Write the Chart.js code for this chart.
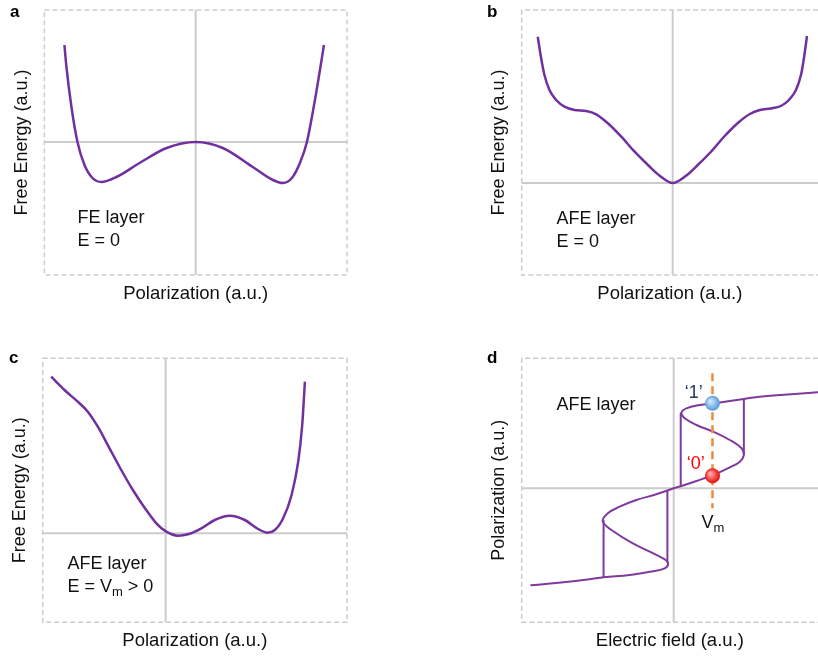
<!DOCTYPE html>
<html>
<head>
<meta charset="utf-8">
<script src="https://cdn.jsdelivr.net/npm/chart.js"></script>
<style>
  body { margin: 0; width: 818px; height: 660px; overflow: hidden; background: #fff; position: relative; }
  canvas { position: absolute; }
</style>
</head>
<body>
<canvas id="panelA" width="409" height="330" style="left:0;top:0"></canvas>
<canvas id="panelB" width="409" height="330" style="left:409px;top:0"></canvas>
<canvas id="panelC" width="409" height="330" style="left:0;top:330px"></canvas>
<canvas id="panelD" width="409" height="330" style="left:409px;top:330px"></canvas>
<script>
// a: FE layer, E = 0
var feP = [-1.31,-1.29,-1.24,-1.18,-1.11,-1.03,-0.94,-0.79,-0.56,-0.29,0,0.27,0.57,0.77,0.87,0.96,1.04,1.11,1.19,1.24,1.28];
var feG = [0.97,0.75,0.35,0,-0.23,-0.36,-0.40,-0.35,-0.21,-0.06,0,-0.06,-0.25,-0.38,-0.41,-0.36,-0.21,0,0.42,0.72,0.97];

// b: AFE layer, E = 0
var afeP = [-1.347,-1.313,-1.28,-1.23,-1.163,-1.08,-0.98,-0.863,-0.763,-0.647,-0.513,-0.38,-0.247,-0.13,0,0.13,0.25,0.38,0.51,0.65,0.77,0.87,0.98,1.08,1.16,1.23,1.28,1.31,1.34];
var afeG = [1.463,1.247,1.08,0.93,0.83,0.763,0.73,0.72,0.687,0.597,0.463,0.313,0.18,0.073,0,0.07,0.18,0.31,0.46,0.60,0.69,0.73,0.745,0.77,0.83,0.93,1.08,1.25,1.47];

// c: AFE layer, E = Vm > 0
var biasP = [-1.143,-1.01,-0.877,-0.777,-0.677,-0.56,-0.443,-0.327,-0.21,-0.093,0.007,0.123,0.223,0.357,0.49,0.64,0.79,0.923,1.017,1.09,1.173,1.257,1.323,1.363,1.39];
var biasG = [1.566,1.433,1.316,1.216,1.066,0.85,0.633,0.433,0.256,0.10,0.016,-0.024,-0.01,0.05,0.133,0.176,0.133,0.043,0.006,0.033,0.15,0.383,0.716,1.083,1.516];

// d: P-E loop of the AFE layer
var loopE = [-1.43,-1.15,-0.84,-0.70,-0.44,-0.24,-0.09,-0.057,-0.107,-0.24,-0.407,-0.573,-0.707,-0.657,-0.54,-0.373,-0.173,0,0.077,0.227,0.393,0.56,0.66,0.70,0.677,0.56,0.393,0.227,0.11,0.077,0.127,0.26,0.393,0.56,0.70,0.86,1.10,1.45];
var loopP = [-0.97,-0.945,-0.91,-0.89,-0.867,-0.834,-0.80,-0.744,-0.70,-0.634,-0.55,-0.45,-0.333,-0.25,-0.184,-0.117,-0.06,0,0.023,0.073,0.133,0.21,0.266,0.333,0.40,0.483,0.566,0.633,0.70,0.756,0.80,0.833,0.85,0.873,0.893,0.916,0.935,0.96];
var jumpE = [-0.70, -0.063, 0.07, 0.70];
var jumpFrom = [-0.89, -0.744, 0.02, 0.333];
var jumpTo = [-0.32, -0.017, 0.756, 0.893];
var readE = 0.387;
var readSpan = [1.15, -0.2];
var stateP = [0.85, 0.125];
var stateText = ['\u20181\u2019', '\u20180\u2019'];

var notesA = ['FE layer', 'E = 0'];
var notesB = ['AFE layer', 'E = 0'];
var notesC = ['AFE layer', 'E = V_m > 0'];

var FONT = '"Liberation Sans", Arial, Helvetica, sans-serif';
Chart.defaults.font.family = FONT;
Chart.defaults.color = '#111';

var PURPLE = '#7030a0';
var LOOP = '#7f3a9e';

function pts(xs, ys) {
  return xs.map(function (x, i) { return { x: x, y: ys[i] }; });
}

// text with "_x" meaning subscript x
function drawRich(ctx, text, px, py, size, color, align) {
  var parts = text.split(/_(\w)/);
  var w = 0;
  parts.forEach(function (t, i) {
    ctx.font = (i % 2 ? Math.round(size * 0.72) : size) + 'px ' + FONT;
    w += ctx.measureText(t).width;
  });
  var cx = align === 'center' ? px - w / 2 : px;
  ctx.fillStyle = color;
  ctx.textAlign = 'left';
  ctx.textBaseline = 'alphabetic';
  parts.forEach(function (t, i) {
    ctx.font = (i % 2 ? Math.round(size * 0.72) : size) + 'px ' + FONT;
    ctx.fillText(t, cx, py + (i % 2 ? 4 : 0));
    cx += ctx.measureText(t).width;
  });
}

var framePlugin = {
  id: 'frame',
  beforeDatasetsDraw: function (chart, args, opts) {
    var ctx = chart.ctx, a = chart.chartArea;
    var x0 = chart.scales.x.getPixelForValue(0);
    var y0 = chart.scales.y.getPixelForValue(0);
    ctx.save();
    ctx.strokeStyle = '#cccccc';
    ctx.lineWidth = 1.5;
    ctx.setLineDash([5, 3]);
    ctx.beginPath();
    if (opts.open) {
      // box runs past the right edge of the figure
      ctx.moveTo(a.right, a.top); ctx.lineTo(a.left, a.top);
      ctx.lineTo(a.left, a.bottom); ctx.lineTo(a.right, a.bottom);
    } else {
      ctx.rect(a.left, a.top, a.right - a.left, a.bottom - a.top);
    }
    ctx.stroke();
    ctx.setLineDash([]);
    ctx.lineWidth = 2;
    ctx.beginPath();
    ctx.moveTo(x0, a.top); ctx.lineTo(x0, a.bottom);
    ctx.moveTo(a.left, y0); ctx.lineTo(a.right, y0);
    ctx.stroke();
    ctx.restore();
  },
  afterDraw: function (chart, args, opts) {
    var ctx = chart.ctx;
    ctx.save();
    ctx.font = 'bold 17px ' + FONT;
    ctx.fillStyle = '#000';
    ctx.textBaseline = 'alphabetic';
    ctx.fillText(opts.letter[0], opts.letter[1], opts.letter[2]);
    (opts.notes || []).forEach(function (n) {
      drawRich(ctx, n.text,
        chart.scales.x.getPixelForValue(n.x),
        chart.scales.y.getPixelForValue(n.y),
        18, n.color || '#111', n.align || 'left');
    });
    ctx.restore();
  }
};

function axis(r, title, size, pad) {
  return {
    type: 'linear', min: r[0], max: r[1],
    grid: { display: false, drawTicks: false },
    ticks: { display: false },
    border: { display: false },
    title: { display: true, text: title, color: '#111', font: { size: size }, padding: pad }
  };
}

function panel(id, cfg) {
  return new Chart(document.getElementById(id), {
    type: 'scatter',
    data: { datasets: cfg.datasets },
    options: {
      responsive: false,
      animation: false,
      events: [],
      layout: { padding: cfg.pad, autoPadding: false },
      plugins: { legend: { display: false }, tooltip: { enabled: false }, frame: cfg.frame },
      scales: {
        x: axis(cfg.xr, cfg.xTitle, 18.5, { top: 8, bottom: 0 }),
        y: axis(cfg.yr, cfg.yTitle, 18, { top: 0, bottom: 12 })
      }
    },
    plugins: [framePlugin]
  });
}

function curve(xs, ys) {
  return {
    data: pts(xs, ys), showLine: true, pointRadius: 0,
    borderColor: PURPLE, borderWidth: 2.5, cubicInterpolationMode: 'monotone'
  };
}

function ball(c, col) {
  var ch = c.chart;
  if (!ch.chartArea || !c.parsed) return col[1];
  var px = ch.scales.x.getPixelForValue(c.parsed.x);
  var py = ch.scales.y.getPixelForValue(c.parsed.y);
  var g = ch.ctx.createRadialGradient(px - 2.5, py - 2.5, 0.5, px, py, 8);
  g.addColorStop(0, col[0]);
  g.addColorStop(1, col[1]);
  return g;
}
var ballColors = [['#d6ecff', '#4d94d6'], ['#ffb0b0', '#e60000']];

panel('panelA', {
  pad: { left: 10.8, right: 62, top: 10, bottom: 24.8 },
  xr: [-1.51, 1.51], yr: [-1.33, 1.32],
  xTitle: 'Polarization (a.u.)', yTitle: 'Free Energy (a.u.)',
  datasets: [curve(feP, feG)],
  frame: {
    letter: ['a', 10, 17],
    notes: [{ text: notesA[0], x: -1.18, y: -0.81 }, { text: notesA[1], x: -1.18, y: -1.04 }]
  }
});

panel('panelB', {
  pad: { left: 79.1, right: 0, top: 10, bottom: 24.8 },
  xr: [-1.507, 1.45], yr: [-0.92, 1.73],
  xTitle: 'Polarization (a.u.)', yTitle: 'Free Energy (a.u.)',
  datasets: [curve(afeP, afeG)],
  frame: {
    open: true,
    letter: ['b', 78, 17],
    notes: [{ text: notesB[0], x: -1.16, y: -0.41 }, { text: notesB[1], x: -1.16, y: -0.64 }]
  }
});

panel('panelC', {
  pad: { left: 9.1, right: 62, top: 28.3, bottom: 7.5 },
  xr: [-1.227, 1.81], yr: [-0.89, 1.75],
  xTitle: 'Polarization (a.u.)', yTitle: 'Free Energy (a.u.)',
  datasets: [curve(biasP, biasG)],
  frame: {
    letter: ['c', 9, 33],
    notes: [{ text: notesC[0], x: -0.98, y: -0.36 }, { text: notesC[1], x: -0.98, y: -0.59 }]
  }
});

var loopSets = [
  {
    data: pts([readE, readE], stateP), showLine: false, pointRadius: 7.5, pointBorderWidth: 0,
    pointBackgroundColor: function (c) { return ball(c, ballColors[c.dataIndex] || ballColors[0]); }
  },
  {
    data: pts([readE, readE], readSpan), showLine: true, pointRadius: 0,
    borderColor: '#f08a3c', borderWidth: 2.5, borderDash: [8, 5]
  },
  {
    data: pts(loopE, loopP), showLine: true, pointRadius: 0,
    borderColor: LOOP, borderWidth: 2, tension: 0.4
  }
].concat(jumpE.map(function (e, i) {
  return {
    data: pts([e, e], [jumpFrom[i], jumpTo[i]]), showLine: true, pointRadius: 0,
    borderColor: LOOP, borderWidth: 2
  };
}));

panel('panelD', {
  pad: { left: 79.1, right: 0, top: 28.3, bottom: 7.5 },
  xr: [-1.517, 1.44], yr: [-1.34, 1.30],
  xTitle: 'Electric field (a.u.)', yTitle: 'Polarization (a.u.)',
  datasets: loopSets,
  frame: {
    open: true,
    letter: ['d', 78, 33],
    notes: [
      { text: 'AFE layer', x: -1.17, y: 0.78 },
      { text: stateText[0], x: 0.2, y: 0.9, color: '#1f3864', align: 'center' },
      { text: stateText[1], x: 0.22, y: 0.19, color: '#ff0000', align: 'center' },
      { text: 'V_m', x: 0.277, y: -0.40 }
    ]
  }
});
</script>
</body>
</html>
